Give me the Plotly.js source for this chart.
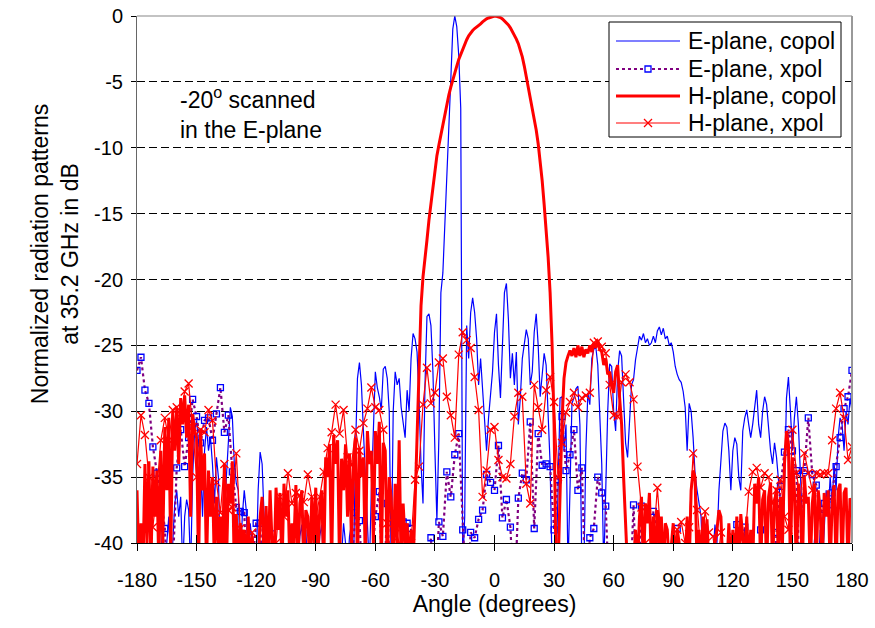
<!DOCTYPE html>
<html>
<head>
<meta charset="utf-8">
<script src="https://cdn.plot.ly/plotly-3.0.1.min.js"></script>
<style>html,body{margin:0;padding:0;background:#fff;}#chart{width:875px;height:628px;}</style>
</head>
<body>
<div id="chart"></div>
<script>
// Angles (degrees)
const angles1 = []; for (let a = -180; a <= 180; a += 1) angles1.push(a);
const angles2 = []; for (let a = -180; a <= 180; a += 2) angles2.push(a);

// E-plane copol, 1 degree steps, -180..180 (values below -40 are off-scale)
const ePlaneCopol = [
-42,-42,-40,-42,-42,-42,-41,-42,-42,-40,
-42,-42,-41,-38.5,-42,-39.8,-38,-42,-40,-37,
-36,-38,-36.5,-42,-38,-36.7,-37.5,-42,-35,-31.5,
-30.7,-32.4,-34,-38,-33,-31.2,-33,-32,-34,-37,
-33.5,-35,-42,-40,-38,-35,-32,-29.7,-30.4,-34,
-35.5,-36,-42,-38,-36,-37.5,-42,-38.5,-40,-42,
-42,-36,-33.1,-34,-38,-42,-42,-40,-42,-42,
-41,-42,-42,-42,-40.5,-42,-42,-42,-42,-41,
-42,-42,-39.5,-38.6,-42,-39,-42,-39.5,-42,-42,
-42,-42,-39.5,-38.6,-42,-42,-42,-42,-42,-42,
-42,-42,-42,-41,-38.5,-40,-42,-39.5,-38.5,-42,
-33,-27.5,-26.3,-28,-32,-35,-39,-42,-36,-31,
-27,-28.2,-28.9,-29.9,-26.8,-26.6,-27.5,-30,-42,-30,
-27,-28,-27.5,-29.7,-31,-32,-28.4,-30,-26,-24.1,
-24.5,-25.5,-29,-34,-37,-28,-22.8,-22.6,-23.5,-27,
-33,-38.3,-32,-21,-19.5,-15.5,-11.4,-8,-4.8,-1,
0,-0.8,-3,-7,-42,-38,-23.5,-26,-22.5,-21.4,
-22.5,-24.5,-28,-26,-28.5,-30.5,-33,-30.5,-29,-27,
-24,-22.6,-26.5,-29,-25,-21,-20.3,-23,-27.5,-25.6,
-28,-25.5,-31,-29,-26,-25,-23.8,-24.5,-28,-27,
-24,-22.6,-25,-28.9,-27,-25.6,-26.5,-31,-34,-42,
-42,-42,-36,-29,-28.9,-33,-31,-42,-36,-29.4,
-29,-28.3,-28.1,-31,-42,-42,-33,-28.6,-29.5,-26,
-25.3,-25.1,-26.5,-30,-34,-42,-36,-30,-26.4,-26.6,
-30,-31.5,-27,-25.4,-25.8,-29,-32.4,-33.5,-31,-28,
-27.6,-26.1,-25.2,-24.3,-24.6,-24.1,-24.8,-24.5,-25,-24.8,
-24.3,-24.8,-23.9,-23.6,-24.2,-23.7,-24.5,-24.3,-25,-24.8,
-25.5,-26.6,-27.2,-27.6,-27.8,-28.5,-29.7,-33,-29.4,-30,
-32,-34.8,-36,-37,-38,-42,-39,-42,-40,-42,
-41,-38.6,-40,-36,-33.5,-31.5,-30.9,-31.2,-33,-36,
-33,-32,-32.5,-35,-36,-31.5,-30.5,-29.9,-31,-32,
-31,-29.5,-28.4,-31,-32,-30,-28.9,-29.5,-31.6,-33,
-34,-32.4,-33.5,-35,-37,-40,-36,-29,-27.4,-30,
-33,-30.5,-28.9,-31,-35,-38,-42,-40,-42,-39,
-42,-40,-38,-42,-39,-42,-38.5,-36,-38,-35,
-37,-34,-36,-32,-30.5,-31,-33,-30,-31,-29,
-30
];

// E-plane xpol, 2 degree steps
const ePlaneXpol = [
-26.9,-25.9,-28.4,-29.4,-32.7,-34.7,-36.5,-38.9,-45,-42,
-34.3,-31.4,-34.2,-32,-29.1,-30.4,-32.4,-30.7,-30.5,-32.2,
-30.2,-28.2,-31.6,-30.3,-34.6,-37.3,-37.6,-37.7,-45,-42,
-38.5,-38.5,-45,-42,-39.3,-45,-45,-44,-45,-43,
-45,-45,-42,-45,-45,-45,-45,-44,-45,-45,
-45,-45,-43,-45,-42,-37.7,-38.3,-45,-45,-42,
-38,-36.1,-45,-37,-45,-45,-45,-38.4,-38.5,-38.9,
-45,-45,-45,-42,-39.6,-45,-38.4,-39.5,-34.6,-36.5,
-33.3,-31.7,-39,-45,-39.2,-39.6,-38.2,-37.5,-34.8,-35.4,
-36,-32.6,-38.1,-36.7,-38.8,-45,-36.6,-34.7,-35.2,-30.8,
-38.9,-31.7,-34.1,-34,-34.2,-39,-35.2,-30.4,-34.5,-33.3,
-31.4,-36,-34.3,-45,-39.6,-38.9,-35,-36.2,-37.2,-45,
-45,-45,-45,-45,-45,-37.1,-45,-37.2,-45,-45,
-37.6,-39.2,-39.8,-45,-45,-45,-38.9,-45,-45,-45,
-45,-45,-45,-45,-45,-45,-45,-45,-45,-45,
-45,-38.6,-45,-38.8,-45,-45,-45,-39,-45,-45,
-45,-39.2,-35.7,-33.1,-31.4,-33,-34.5,-45,-34.5,-30.5,
-34.8,-35.6,-37.9,-37,-37.1,-36.2,-34.2,-32,-29.8,-28.9,
-26.9
];

// H-plane copol, 1 degree steps
const hPlaneCopol = [
-36,-42,-38.5,-42,-34,-40,-33.8,-42,-34.2,-38,
-34.5,-42,-33,-40,-31.2,-36,-30.5,-41,-30,-33,
-29.8,-34,-29,-31,-28.8,-32,-29.5,-38,-30.2,-31.5,
-32,-42,-31.5,-36,-33.2,-42,-34.5,-38,-35,-42,
-36.5,-40,-38,-42,-34,-42,-35.5,-37,-33.8,-42,
-37.8,-42,-38.5,-40,-39,-42,-38,-42,-39.5,-42,
-40,-42,-38,-36.5,-42,-37.2,-42,-36,-40,-42,
-35.8,-39,-36.2,-42,-35.5,-38,-36,-42,-38.5,-40,
-35.6,-42,-37,-36,-42,-37.5,-38,-42,-36.5,-40,
-35.8,-42,-37.5,-36,-42,-33.5,-35,-32.5,-42,-31.8,
-34,-32.2,-42,-33.6,-36,-32.5,-38,-33.2,-40,-34,
-32,-42,-32.8,-35,-33.5,-42,-31.5,-34,-33,-40,
-31.5,-34,-30.8,-42,-32.4,-33,-42,-35,-36.6,-42,
-35.5,-40,-32.2,-42,-37,-40,-38.5,-42,-39,-42,
-37,-32,-26,-22,-19.8,-18.6,-17,-15.5,-14.2,-12.8,
-11.5,-10.6,-9.8,-9,-8.1,-7.4,-6.7,-6,-5.4,-4.8,
-4.3,-3.8,-3.3,-2.9,-2.5,-2.1,-1.8,-1.5,-1.25,-1.1,
-0.95,-0.85,-0.75,-0.6,-0.45,-0.3,-0.22,-0.15,-0.08,-0.04,
0,-0.02,-0.05,-0.12,-0.22,-0.35,-0.5,-0.68,-0.9,-1.15,
-1.44,-1.75,-2.1,-2.6,-3.1,-3.8,-4.6,-5.4,-6.2,-7,
-7.8,-8.65,-9.7,-11,-12.5,-14.3,-16.2,-18.3,-21,-25,
-31,-42,-42,-36,-30.7,-27.5,-26.3,-25.8,-25.4,-25.8,
-25.2,-25.9,-25,-25.8,-25.1,-25.9,-25.3,-25.6,-25,-25.5,
-24.8,-25.2,-24.6,-25.3,-25.5,-26.5,-26,-27.2,-27,-28,
-28.6,-27,-26.5,-29,-31,-35,-38,-42,-42,-40,
-42,-39,-42,-38,-36.5,-42,-37,-38.5,-36.2,-42,
-38,-42,-37.5,-40,-38,-42,-38.5,-39,-42,-40,
-38.5,-42,-39,-40,-42,-41,-42,-38,-42,-36,
-34.5,-35,-42,-39,-42,-38,-40,-38.2,-42,-41,
-42,-40,-39,-37.5,-38,-42,-40,-42,-38.5,-42,
-39,-42,-38,-42,-37.8,-39.5,-42,-38,-42,-39,
-42,-35.5,-37,-35,-42,-36.7,-36,-42,-36.5,-35.4,
-42,-37,-35.8,-42,-36.5,-40,-34,-31.5,-32.5,-42,
-33.5,-36,-42,-35.5,-37,-42,-35,-37,-36.5,-42,
-37,-35.5,-42,-36,-37.5,-42,-36.2,-38,-36,-42,
-37,-35.6,-42,-36,-35.5,-42,-36.2,-35.8,-42,-36.6,
-37
];

// H-plane xpol, 2 degree steps
const hPlaneXpol = [
-34,-30.3,-31.8,-35,-38.8,-36,-32.2,-30.5,-32.2,-29.9,
-29.7,-30.5,-28.5,-27.9,-31.2,-35,-31.4,-31.6,-29.9,-30.7,
-35.4,-37.7,-34,-37.5,-37.3,-33.2,-38.9,-41,-43,-39.2,
-41,-43,-42,-39.2,-41,-40,-36.5,-38,-34.7,-37,
-36.2,-36.4,-36.9,-34.8,-36.5,-38.1,-36.5,-34.6,-32.8,-31.6,
-29.5,-31.7,-29.9,-33.5,-34.1,-31.4,-33,-30.9,-29.8,-28.2,
-29.7,-29.9,-31.4,-38.5,-42,-38.8,-40,-42,-43,-40,
-35.2,-34.2,-29.5,-26.7,-29.4,-28.6,-26.3,-26,-28.9,-30.3,
-32,-25.7,-24,-24.6,-25.2,-27.4,-29.9,-36.5,-34.5,-31.4,
-31.2,-33.7,-35,-35.1,-34,-30.4,-28.6,-28.9,-35.5,-37,
-28,-29.7,-31.4,-28.4,-27.4,-29.3,-35,-32.4,-30.1,-29.3,
-28.6,-29.7,-29,-28.8,-28.6,-24.8,-24.7,-25.1,-25.6,-28,
-30.3,-30.4,-27.8,-27.2,-27.8,-29.1,-34.2,-37.3,-40,-43,
-40,-35.8,-40,-43,-41,-42,-39,-38.4,-40,-38.8,
-33.2,-37.5,-41,-37.6,-39.2,-39.5,-42,-39.2,-41,-43,
-39.5,-39.5,-42,-40,-36.1,-34.6,-34.3,-35.8,-34.7,-35,
-37,-36,-35.2,-38,-39,-31.4,-34.7,-36.6,-33.2,-34.7,
-36,-34.7,-34.8,-34.7,-34.7,-32.2,-29.8,-28.6,-30.5,-33.7,
-32.7
];

const xTicks = [-180,-150,-120,-90,-60,-30,0,30,60,90,120,150,180];
const yTicks = [0,-5,-10,-15,-20,-25,-30,-35,-40];
const seriesNames = ['E-plane, copol','E-plane, xpol','H-plane, copol','H-plane, xpol'];

const FONT = 'Liberation Sans, Arial, sans-serif';

// plot-area pixel geometry used to place the legend box in paper coordinates
const PL = 137, PW = 715, PT = 16, PH = 527;
const px = v => (v - PL) / PW;
const py = v => 1 - (v - PT) / PH;

const traces = [
  {x: angles1, y: ePlaneCopol, name: seriesNames[0], mode: 'lines', showlegend: false,
   line: {color: '#0000FF', width: 1.2}},
  {x: angles2, y: ePlaneXpol, name: seriesNames[1], mode: 'lines+markers', showlegend: false,
   line: {color: '#800080', width: 2.2, dash: 'dot'},
   marker: {symbol: 'square-open', color: '#0000FF', size: 6, line: {width: 1.3, color: '#0000FF'}}},
  {x: angles1, y: hPlaneCopol, name: seriesNames[2], mode: 'lines', showlegend: false,
   line: {color: '#FF0000', width: 3}},
  {x: angles2, y: hPlaneXpol, name: seriesNames[3], mode: 'lines+markers', showlegend: false,
   line: {color: '#FF0000', width: 1.2},
   marker: {symbol: 'x-thin-open', color: '#FF0000', size: 8, line: {width: 1.3, color: '#FF0000'}}},
  {x: [null], y: [null], xaxis: 'x2', yaxis: 'y2', showlegend: false, hoverinfo: 'skip', mode: 'lines'}
];

// legend drawn as a box with samples
const rowY = [41, 69, 96, 123];
const legendShapes = [
  {type: 'rect', xref: 'paper', yref: 'paper', x0: px(609), x1: px(841), y0: py(22), y1: py(137),
   fillcolor: '#ffffff', line: {color: '#000', width: 1}, layer: 'above'},
  {type: 'line', xref: 'paper', yref: 'paper', x0: px(616), x1: px(680), y0: py(rowY[0]), y1: py(rowY[0]),
   line: {color: '#0000FF', width: 1.2}, layer: 'above'},
  {type: 'line', xref: 'paper', yref: 'paper', x0: px(616), x1: px(680), y0: py(rowY[1]), y1: py(rowY[1]),
   line: {color: '#800080', width: 2.2, dash: 'dot'}, layer: 'above'},
  {type: 'rect', xref: 'paper', yref: 'paper', x0: px(645), x1: px(651), y0: py(rowY[1] - 3), y1: py(rowY[1] + 3),
   fillcolor: '#ffffff', line: {color: '#0000FF', width: 1.3}, layer: 'above'},
  {type: 'line', xref: 'paper', yref: 'paper', x0: px(616), x1: px(680), y0: py(rowY[2]), y1: py(rowY[2]),
   line: {color: '#FF0000', width: 3}, layer: 'above'},
  {type: 'line', xref: 'paper', yref: 'paper', x0: px(616), x1: px(680), y0: py(rowY[3]), y1: py(rowY[3]),
   line: {color: '#FF0000', width: 1.2}, layer: 'above'},
  {type: 'line', xref: 'paper', yref: 'paper', x0: px(644), x1: px(652), y0: py(rowY[3] - 4), y1: py(rowY[3] + 4),
   line: {color: '#FF0000', width: 1.3}, layer: 'above'},
  {type: 'line', xref: 'paper', yref: 'paper', x0: px(644), x1: px(652), y0: py(rowY[3] + 4), y1: py(rowY[3] - 4),
   line: {color: '#FF0000', width: 1.3}, layer: 'above'}
];
const legendTexts = seriesNames.map((n, i) => ({
  xref: 'paper', yref: 'paper', x: px(686), y: py(rowY[i]), xanchor: 'left', yanchor: 'middle',
  showarrow: false, text: n, font: {family: FONT, size: 23, color: '#000'}
}));

const layout = {
  width: 875, height: 628,
  margin: {l: 137, r: 23, t: 16, b: 85},
  paper_bgcolor: '#ffffff', plot_bgcolor: '#ffffff',
  font: {family: FONT, size: 20, color: '#000'},
  showlegend: false,
  xaxis: {range: [-180, 180], tickvals: xTicks, ticktext: xTicks.map(String),
    ticks: 'outside', ticklen: 7, tickcolor: '#000', showline: true, linecolor: '#000', linewidth: 1,
    showgrid: false, zeroline: false, tickfont: {family: FONT, size: 20}, ticklabelstandoff: 12,
    title: {text: 'Angle (degrees)', font: {family: FONT, size: 23}, standoff: 4}},
  yaxis: {range: [-40, 0], tickvals: yTicks, ticktext: yTicks.map(String),
    ticks: 'outside', ticklen: 5, tickcolor: '#000', showline: true, linecolor: '#666', linewidth: 1,
    showgrid: true, gridcolor: '#000', gridwidth: 1, griddash: '8px,4px', zeroline: false,
    tickfont: {family: FONT, size: 20}, ticklabelstandoff: 4},
  xaxis2: {overlaying: 'x', matches: 'x', anchor: 'y', side: 'bottom', range: [-180, 180], tickvals: xTicks,
    ticks: 'inside', ticklen: 8, tickcolor: '#000', showticklabels: false, showgrid: false, zeroline: false, showline: false},
  yaxis2: {overlaying: 'y', matches: 'y', anchor: 'x', side: 'left', range: [-40, 0], tickvals: yTicks,
    ticks: 'inside', ticklen: 3, tickcolor: '#000', showticklabels: false, showgrid: false, zeroline: false, showline: false},
  shapes: [
    {type: 'line', xref: 'paper', yref: 'paper', x0: 0, x1: 1, y0: 1, y1: 1, line: {color: '#888', width: 1.2}},
    {type: 'line', xref: 'paper', yref: 'paper', x0: 1, x1: 1, y0: 0, y1: 1, line: {color: '#999', width: 2}}
  ].concat(legendShapes),
  annotations: [
    {xref: 'paper', yref: 'paper', x: 0.058, y: 0.876, xanchor: 'left', yanchor: 'top', align: 'left',
     showarrow: false, text: '-20<sup>o</sup> scanned<br>in the E-plane', font: {family: FONT, size: 23, color: '#000'}},
    {xref: 'paper', yref: 'paper', x: -0.1147, y: 0.548, xanchor: 'center', yanchor: 'middle', textangle: -90,
     showarrow: false, text: 'Normalized radiation patterns<br>at 35.2 GHz in dB', font: {family: FONT, size: 23, color: '#000'}}
  ].concat(legendTexts)
};

Plotly.newPlot('chart', traces, layout, {displayModeBar: false, staticPlot: true});
</script>
</body>
</html>
